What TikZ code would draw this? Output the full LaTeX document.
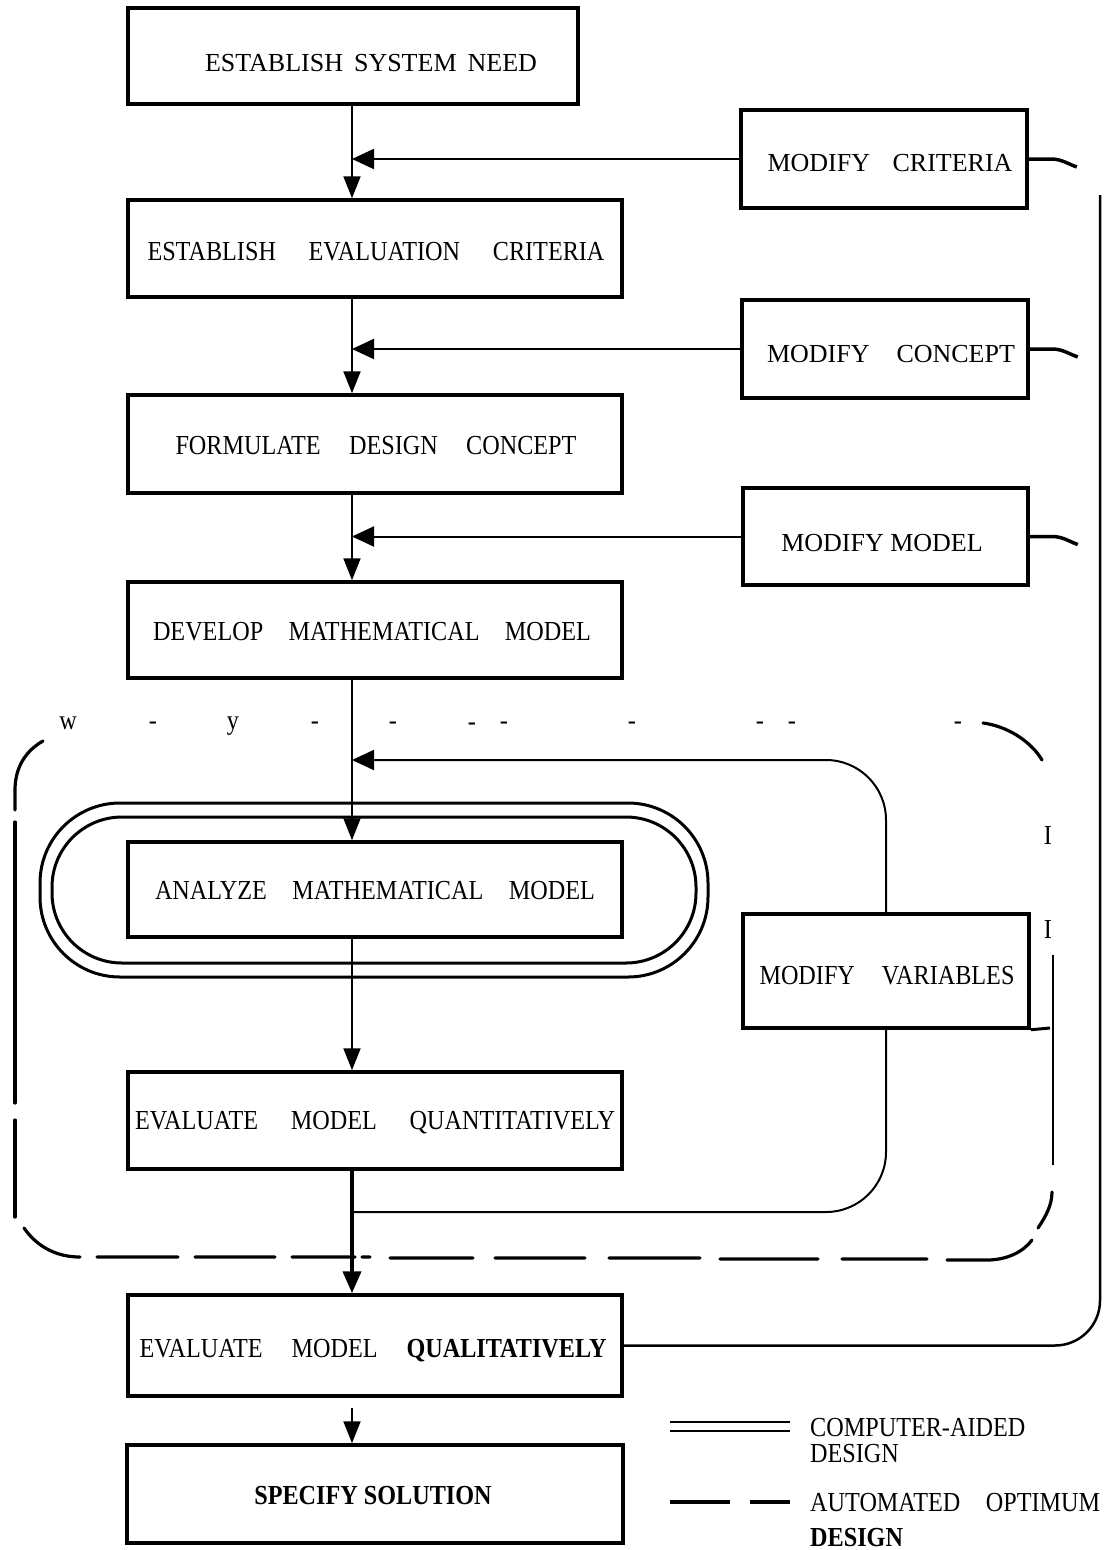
\documentclass[tikz,border=0pt]{standalone}
\usepackage{fontspec}
\setmainfont{Liberation Serif}[FakeStretch=0.88]
\newfontfamily\crisp{Liberation Serif}
\usetikzlibrary{arrows.meta}
\newcommand{\fitw}[2]{\makebox[#1pt][s]{#2}}
\begin{document}
\begin{tikzpicture}[x=1pt,y=-1pt,
  every node/.style={font=\fontsize{27.5}{32}\selectfont},
  box/.style={draw, line width=3.5pt, inner sep=0pt},
  txt/.style={inner sep=0pt, text depth=0pt},
  ctxt/.style={txt, font=\crisp\fontsize{26}{30}\selectfont},
  art/.style={inner sep=0pt, anchor=base},
  conn/.style={line width=2pt},
  arr/.style={conn, -{Triangle[length=22pt,width=17pt]}},
  harr/.style={conn, -{Triangle[length=22pt,width=20pt]}},
  stub/.style={line width=3.5pt},
  dline/.style={line width=3.2pt, line cap=round},
  ring/.style={line width=3pt},
]
\useasboundingbox (0,0) rectangle (1108,1550);

% stadium (computer-aided region)
\draw[ring, rounded corners=80pt] (40,803) rectangle (708,977);
\draw[ring, rounded corners=70pt] (52,817) rectangle (696,963);

% boxes
\node[box, minimum width=450pt, minimum height=96pt] (b1) at (353,56) {};
\node[box, minimum width=286pt, minimum height=98pt] (mc) at (884,159) {};
\node[box, minimum width=494pt, minimum height=97pt] (b2) at (375,248.5) {};
\node[box, minimum width=286pt, minimum height=98pt] (mk) at (885,349) {};
\node[box, minimum width=494pt, minimum height=98pt] (b3) at (375,444) {};
\node[box, minimum width=285pt, minimum height=97pt] (mm) at (885.5,536.5) {};
\node[box, minimum width=494pt, minimum height=96pt] (b4) at (375,630) {};
\node[box, minimum width=494pt, minimum height=95pt] (b5) at (375,889.5) {};
\node[box, minimum width=286pt, minimum height=114pt] (mv) at (886,971) {};
\node[box, minimum width=494pt, minimum height=97pt] (b6) at (375,1120.5) {};
\node[box, minimum width=494pt, minimum height=101pt] (b7) at (375,1345.5) {};
\node[box, minimum width=496pt, minimum height=98pt] (b8) at (375,1494) {};

% texts
\node[ctxt] (t1) at (371,63) {\fitw{332}{ESTABLISH SYSTEM NEED}};
\node[ctxt] (tmc) at (890,163) {\fitw{245}{MODIFY CRITERIA}};
\node[txt] (t2) at (376,251) {\fitw{457}{ESTABLISH EVALUATION CRITERIA}};
\node[ctxt] (tmk) at (891,354) {\fitw{248}{MODIFY CONCEPT}};
\node[txt] (t3) at (376,445) {\fitw{401}{FORMULATE DESIGN CONCEPT}};
\node[ctxt] (tmm) at (882,543) {MODIFY MODEL};
\node[txt] (t4) at (372,631) {\fitw{438}{DEVELOP MATHEMATICAL MODEL}};
\node[txt] (t5) at (375,890) {\fitw{440}{ANALYZE MATHEMATICAL MODEL}};
\node[txt] (tmv) at (887,975) {\fitw{255}{MODIFY VARIABLES}};
\node[txt] (t6) at (375,1120) {\fitw{480}{EVALUATE MODEL QUANTITATIVELY}};
\node[txt] (t7) at (373,1348) {\fitw{467}{EVALUATE MODEL \textbf{QUALITATIVELY}}};
\node[txt] (t8) at (373,1495) {\textbf{SPECIFY SOLUTION}};

% coordinates
\coordinate (mx) at (352,0);
\coordinate (jt) at (352,760);
\coordinate (jb) at (352,1212);
\coordinate (lp) at (1100,195);

% main flow
\draw[arr] (b1.south -| mx) -- (b2.north -| mx);
\draw[arr] (b2.south -| mx) -- (b3.north -| mx);
\draw[arr] (b3.south -| mx) -- (b4.north -| mx);
\draw[arr] (b4.south -| mx) -- (b5.north -| mx);
\draw[arr] (b5.south -| mx) -- (b6.north -| mx);
\draw[line width=4pt, -{Triangle[length=22pt,width=18pt]}] (b6.south -| mx) -- (b7.north -| mx);
\draw[arr, shorten <=10pt] (b7.south -| mx) -- (b8.north -| mx);

% modify arrows
\draw[harr] (mc.west) -- (mc.west -| mx);
\draw[harr] (mk.west) -- (mk.west -| mx);
\draw[harr] (mm.west) -- (mm.west -| mx);
\draw[harr, rounded corners=60pt] (mv.north) |- (jt);
\draw[conn, rounded corners=60pt] (jb) -| (mv.south);

% outer loop
\draw[line width=2.5pt, rounded corners=45pt] (b7.east) -| (lp);
\draw[stub] (mc.east) -- ++(22,0) to[out=0,in=160] ++(26,8);
\draw[stub] (mk.east) -- ++(22,0) to[out=0,in=160] ++(26,8);
\draw[stub] (mm.east) -- ++(22,0) to[out=0,in=160] ++(26,8);

% dashed region (automated optimum design)
\draw[dline] (15,810) -- (15,790) .. controls (15,766) and (27,750) .. (43,741);
\draw[dline] (15,822) -- (15,1103) (15,1120) -- (15,1217);
\draw[dline] (24,1228) .. controls (38,1248) and (58,1257) .. (80,1257);
\draw[dline] (97,1257) -- (178,1257) (195,1257) -- (275,1257) (292,1257) -- (355,1257)
  (362,1257) -- (370,1257) (390,1258) -- (473,1258) (495,1258) -- (585,1258)
  (609,1258) -- (700,1258) (720,1259) -- (818,1259) (842,1259) -- (927,1259)
  (947,1260) -- (987,1260) .. controls (1008,1260) and (1024,1251) .. (1032,1240)
  (1038,1228) .. controls (1046,1216) and (1052,1205) .. (1052,1192);
\draw[dline] (983,723) .. controls (1006,726) and (1030,740) .. (1042,760);
\draw[line width=2.5pt] (1053,955) -- (1053,1165);
\draw[line width=3pt] (mv.south east) -- (1050,1028);

% stray characters printed along the dashed boundary
\node[art] (a1) at (68,729) {w};
\node[art] (a2) at (153,729) {-};
\node[art] (a3) at (233,729) {y};
\node[art] (a4) at (315,729) {-};
\node[art] (a5) at (393,729) {-};
\node[art] (a6) at (472,730) {-};
\node[art] (a7) at (504,729) {-};
\node[art] (a8) at (632,729) {-};
\node[art] (a9) at (760,729) {-};
\node[art] (a10) at (792,729) {-};
\node[art] (a11) at (958,729) {-};
\node[txt] (i1) at (1048,835) {I};
\node[txt] (i2) at (1048,929) {I};

% legend
\draw[line width=2pt] (670,1422) coordinate (lg1) -- (790,1422);
\draw[line width=2pt] (670,1431) -- (790,1431);
\draw[line width=3.2pt] (670,1502) coordinate (lg2) -- (730,1502) (750,1502) -- (790,1502);
\node[art, anchor=base west] (l1) at (810,1436) {COMPUTER-AIDED};
\node[art, anchor=base west] (l2) at (810,1462) {DESIGN};
\node[art, anchor=base west] (l3) at (810,1511) {\fitw{290}{AUTOMATED OPTIMUM}};
\node[art, anchor=base west] (l4) at (810,1546) {\textbf{DESIGN}};
\end{tikzpicture}
\end{document}
